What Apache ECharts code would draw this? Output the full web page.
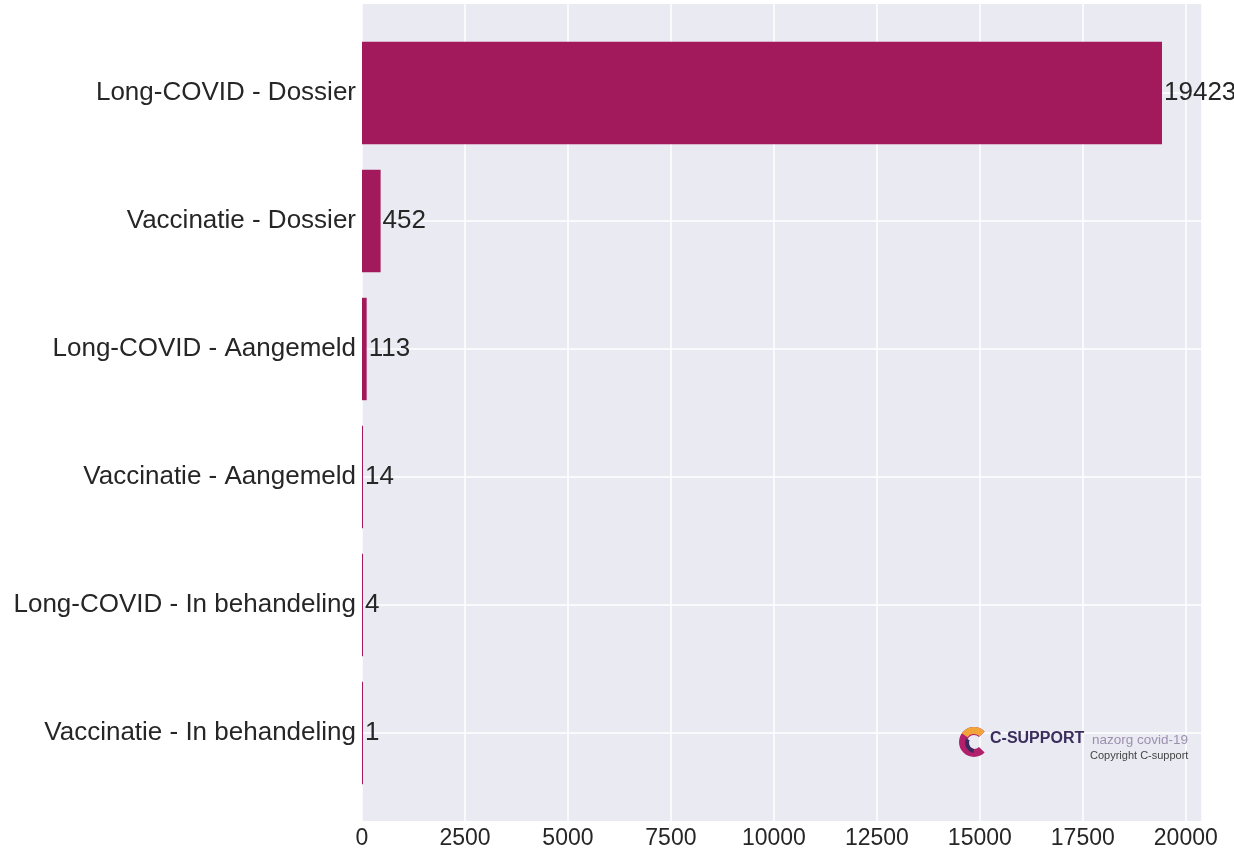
<!DOCTYPE html>
<html>
<head>
<meta charset="utf-8">
<title>C-support aanmeldingen</title>
<script src="https://cdn.jsdelivr.net/npm/echarts@6/dist/echarts.min.js"></script>
<style>
  html, body { margin: 0; padding: 0; background: #fff; }
  #main { width: 1234px; height: 852px; }
</style>
</head>
<body>
<div id="main"></div>
<script>
// gegevens uit de grafiek
var categories = [
  'Long-COVID - Dossier',
  'Vaccinatie - Dossier',
  'Long-COVID - Aangemeld',
  'Vaccinatie - Aangemeld',
  'Long-COVID - In behandeling',
  'Vaccinatie - In behandeling'
];
var values = [19423, 452, 113, 14, 4, 1];
var tickStep = 2500;
var xMax = 20394; // 5% marge boven de grootste balk

var textFont = "'Liberation Sans', Arial, Helvetica, sans-serif";

var chart = echarts.init(document.getElementById('main'));

var option = {
  animation: false,
  grid: [
    // balken
    { left: 362, right: 32, top: 29, height: 768, containLabel: false },
    // achtergrond met rasterlijnen
    { left: 362, right: 32, top: 4, bottom: 31, show: true, backgroundColor: '#eaeaf2', borderWidth: 0, z: 0 }
  ],
  xAxis: [
    { gridIndex: 0, type: 'value', min: 0, max: xMax, show: false },
    {
      gridIndex: 1, type: 'value', min: 0, max: xMax, interval: tickStep,
      axisLine: { show: false }, axisTick: { show: false },
      splitLine: { show: true, lineStyle: { color: '#ffffff', width: 1.5 } },
      axisLabel: {
        margin: 6, fontSize: 23, color: '#262626', fontFamily: textFont,
        formatter: function (v) { return String(v); }
      }
    }
  ],
  yAxis: [
    {
      gridIndex: 0, type: 'category', data: categories, inverse: true,
      axisLine: { show: false }, axisTick: { show: false }, splitLine: { show: false },
      axisLabel: { margin: 6, fontSize: 26, color: '#262626', fontFamily: textFont }
    },
    { gridIndex: 1, type: 'value', min: 0, max: 1, show: false }
  ],
  series: [
    {
      type: 'bar',
      xAxisIndex: 0, yAxisIndex: 0,
      data: values,
      barWidth: '80%',
      barMinHeight: 1,
      z: 3,
      itemStyle: { color: '#a21a5b' },
      label: {
        show: true, position: 'right', distance: 2,
        fontSize: 26, color: '#262626', fontFamily: textFont
      },
      markLine: {
        silent: true, symbol: 'none', z: 1,
        label: { show: false },
        lineStyle: { color: '#ffffff', width: 1.5, type: 'solid' },
        data: categories.map(function (c) { return { yAxis: c }; })
      }
    }
  ],
  graphic: [
    // logo C-support
    { type: 'sector', shape: { cx: 974, cy: 742, r: 15, r0: 7, startAngle: -Math.PI / 4, endAngle: Math.PI / 4, clockwise: false }, style: { fill: '#b2206c' }, z: 10 },
    { type: 'sector', shape: { cx: 974, cy: 742, r: 15, r0: 8, startAngle: -Math.PI / 4, endAngle: -Math.PI * 0.8, clockwise: false }, style: { fill: '#f2a33a' }, z: 11 },
    { type: 'sector', shape: { cx: 975, cy: 743, r: 10, r0: 6, startAngle: -Math.PI * 0.85, endAngle: Math.PI * 0.55, clockwise: false }, style: { fill: '#3c2a5c' }, z: 12 },
    { type: 'text', x: 990, y: 731, z: 12, style: { text: 'C-SUPPORT', fill: '#3b2d5c', font: "bold 16px 'Liberation Sans', Arial, sans-serif" } },
    { type: 'text', x: 1092, y: 733, z: 12, style: { text: 'nazorg covid-19', fill: '#9c90b0', font: "13.5px 'Liberation Sans', Arial, sans-serif" } },
    { type: 'text', x: 1090, y: 750, z: 12, style: { text: 'Copyright C-support', fill: '#444444', font: "11px 'Liberation Sans', Arial, sans-serif" } }
  ]
};

chart.setOption(option);
</script>
</body>
</html>
